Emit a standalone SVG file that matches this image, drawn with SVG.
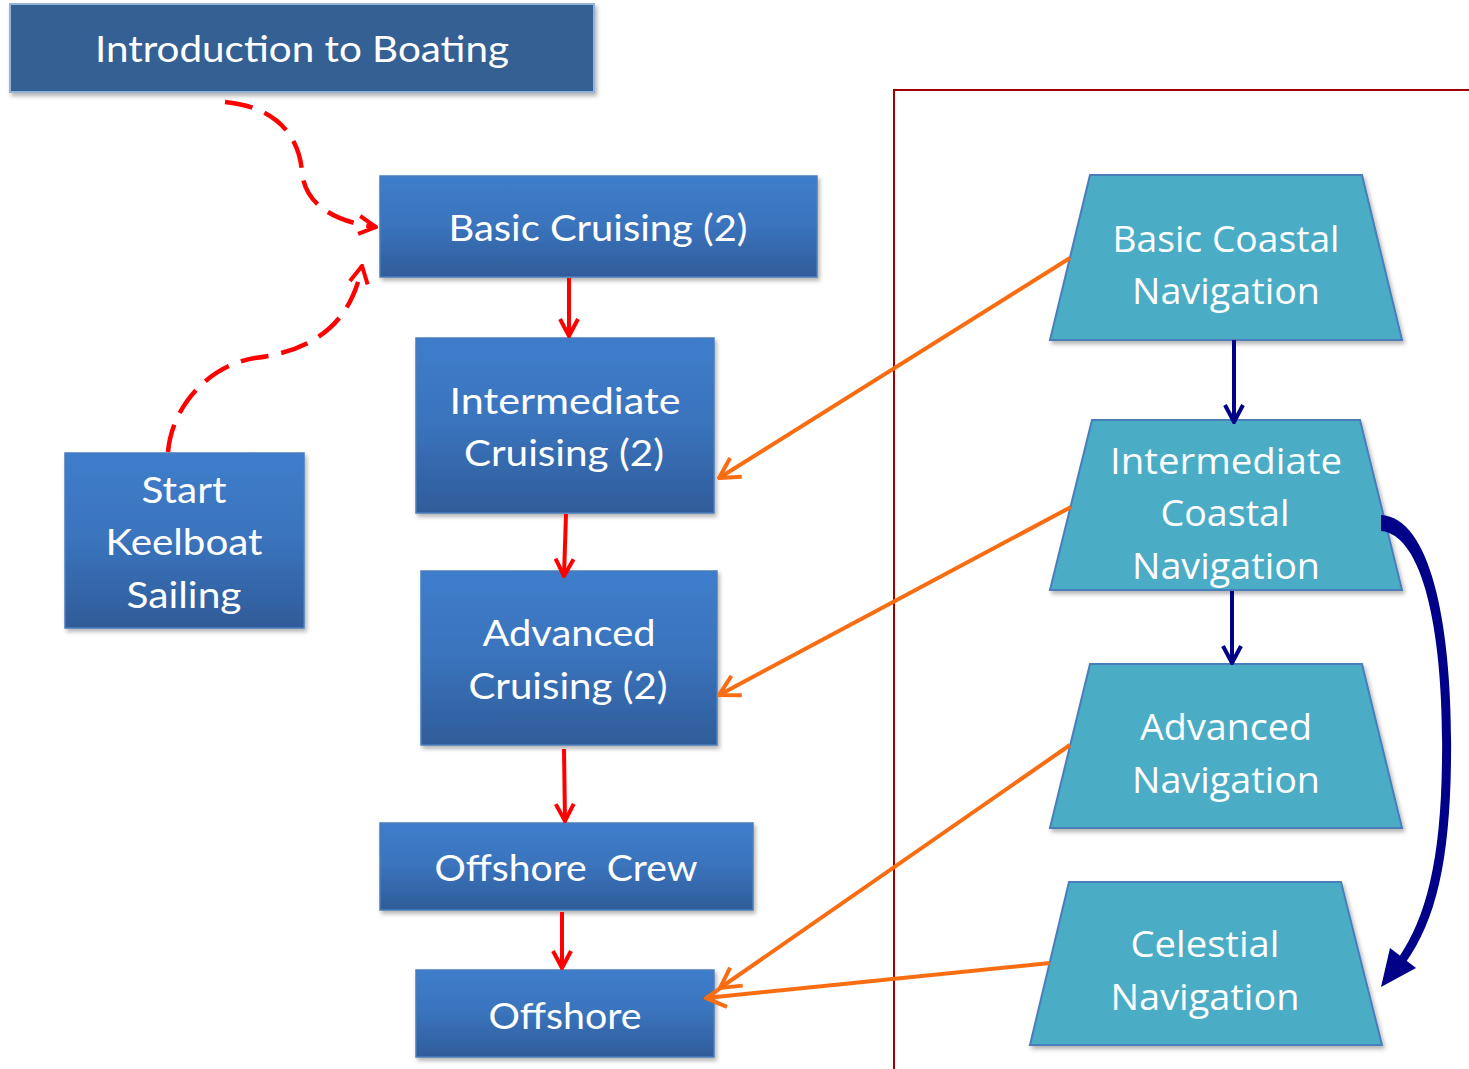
<svg xmlns="http://www.w3.org/2000/svg" width="1469" height="1069" viewBox="0 0 1469 1069">
<style>
.bx{stroke:#4A7EBB;stroke-width:1.5;fill:url(#gb);filter:url(#sh)}
.tz{fill:#4BACC6;stroke:#4A7EBB;stroke-width:2;filter:url(#sh)}
.t{font-family:Lato,"Liberation Sans",sans-serif;font-size:37px;fill:#fff;text-anchor:middle}
.r{font-family:"Open Sans","DejaVu Sans",sans-serif;font-size:36px;fill:#fff;text-anchor:middle}
.red{stroke:#FF0000;stroke-width:4;fill:none}
.dash{stroke:#FF0000;stroke-width:4.5;fill:none;stroke-dasharray:28 13}
.org{stroke:#F96D12;stroke-width:4;fill:none}
.nav{stroke:#000088;stroke-width:4;fill:none}
</style>
<defs>
<linearGradient id="gb" x1="0" y1="0" x2="0" y2="1">
<stop offset="0" stop-color="#3E7DCB"/>
<stop offset="0.5" stop-color="#3A73BC"/>
<stop offset="1" stop-color="#2F5C99"/>
</linearGradient>
<filter id="sh" x="-10%" y="-10%" width="130%" height="130%">
<feDropShadow dx="2" dy="3" stdDeviation="2" flood-color="#000" flood-opacity="0.3"/>
</filter>
<marker id="ar" viewBox="0 0 22 22" refX="20" refY="11" markerWidth="22" markerHeight="22" markerUnits="userSpaceOnUse" orient="auto">
<path d="M3,2 L20,11 L3,20" fill="none" stroke="#FF0000" stroke-width="4"/>
</marker>
<marker id="ao" viewBox="0 0 26 26" refX="24" refY="13" markerWidth="26" markerHeight="26" markerUnits="userSpaceOnUse" orient="auto">
<path d="M4,2 L24,13 L4,24" fill="none" stroke="#F96D12" stroke-width="4"/>
</marker>
<marker id="an" viewBox="0 0 22 22" refX="20" refY="11" markerWidth="22" markerHeight="22" markerUnits="userSpaceOnUse" orient="auto">
<path d="M3,2 L20,11 L3,20" fill="none" stroke="#000088" stroke-width="4"/>
</marker>
</defs>
<rect width="1469" height="1069" fill="#fff"/>
<g id="divider">
<path d="M894,1069 L894,90 L1469,90" fill="none" stroke="#A00000" stroke-width="2"/>
</g>
<g id="intro">
<rect x="10" y="4" width="584" height="88" fill="#366194" stroke="#95B3D7" stroke-width="2" filter="url(#sh)"/>
<text class="t" x="302" y="62" textLength="414" lengthAdjust="spacingAndGlyphs">Introduction to Boating</text>
</g>
<g id="basic-cruising">
<rect class="bx" x="380" y="176" width="437" height="101"/>
<text class="t" x="598" y="241" textLength="299" lengthAdjust="spacingAndGlyphs">Basic Cruising (2)</text>
</g>
<g id="intermediate-cruising">
<rect class="bx" x="416" y="338" width="298" height="175"/>
<text class="t" x="565" y="414" textLength="231" lengthAdjust="spacingAndGlyphs">Intermediate</text>
<text class="t" x="564" y="466" textLength="200" lengthAdjust="spacingAndGlyphs">Cruising (2)</text>
</g>
<g id="advanced-cruising">
<rect class="bx" x="421" y="571" width="296" height="174"/>
<text class="t" x="569" y="646" textLength="173" lengthAdjust="spacingAndGlyphs">Advanced</text>
<text class="t" x="568" y="699" textLength="199" lengthAdjust="spacingAndGlyphs">Cruising (2)</text>
</g>
<g id="offshore-crew">
<rect class="bx" x="380" y="823" width="373" height="87"/>
<text class="t" x="566" y="881" textLength="263" lengthAdjust="spacingAndGlyphs" xml:space="preserve">Offshore  Crew</text>
</g>
<g id="offshore">
<rect class="bx" x="416" y="970" width="298" height="87"/>
<text class="t" x="565" y="1029" textLength="153" lengthAdjust="spacingAndGlyphs">Offshore</text>
</g>
<g id="start-keelboat">
<rect class="bx" x="65" y="453" width="239" height="175"/>
<text class="t" x="184" y="503" textLength="85" lengthAdjust="spacingAndGlyphs">Start</text>
<text class="t" x="184" y="555" textLength="157" lengthAdjust="spacingAndGlyphs">Keelboat</text>
<text class="t" x="184" y="608" textLength="115" lengthAdjust="spacingAndGlyphs">Sailing</text>
</g>
<g id="basic-coastal">
<polygon class="tz" points="1090,175 1362,175 1402,340 1050,340"/>
<text class="r" x="1226" y="252" textLength="227" lengthAdjust="spacingAndGlyphs">Basic Coastal</text>
<text class="r" x="1226" y="304" textLength="188" lengthAdjust="spacingAndGlyphs">Navigation</text>
</g>
<g id="intermediate-coastal">
<polygon class="tz" points="1092,420 1360,420 1402,590 1050,590"/>
<text class="r" x="1226" y="474" textLength="232" lengthAdjust="spacingAndGlyphs">Intermediate</text>
<text class="r" x="1225" y="526" textLength="129" lengthAdjust="spacingAndGlyphs">Coastal</text>
<text class="r" x="1226" y="579" textLength="188" lengthAdjust="spacingAndGlyphs">Navigation</text>
</g>
<g id="advanced-navigation">
<polygon class="tz" points="1090,664 1362,664 1402,828 1050,828"/>
<text class="r" x="1226" y="740" textLength="172" lengthAdjust="spacingAndGlyphs">Advanced</text>
<text class="r" x="1226" y="793" textLength="188" lengthAdjust="spacingAndGlyphs">Navigation</text>
</g>
<g id="celestial-navigation">
<polygon class="tz" points="1069,882 1341,882 1382,1045 1030,1045"/>
<text class="r" x="1205" y="957" textLength="149" lengthAdjust="spacingAndGlyphs">Celestial</text>
<text class="r" x="1205" y="1010" textLength="189" lengthAdjust="spacingAndGlyphs">Navigation</text>
</g>
<g id="connectors">
<path class="red" d="M569,278 L569,336" marker-end="url(#ar)"/>
<path class="red" d="M566,514 L564,576" marker-end="url(#ar)"/>
<path class="red" d="M564,749 L565,821" marker-end="url(#ar)"/>
<path class="red" d="M562,912 L562,968" marker-end="url(#ar)"/>
<path class="dash" d="M225,102 C285,108 300,145 302,172 C305,205 335,222 376,227" marker-end="url(#ar)"/>
<path class="dash" d="M168,452 C172,405 210,365 255,358 C320,350 352,318 362,266" marker-end="url(#ar)"/>
<path class="org" d="M1070,258 L719,478" marker-end="url(#ao)"/>
<path class="org" d="M1071,507 L719,695" marker-end="url(#ao)"/>
<path class="org" stroke-width="4.5" d="M1070,745 L720,988" marker-end="url(#ao)"/>
<path class="org" stroke-width="4.5" d="M1050,963 L706,998" marker-end="url(#ao)"/>
<path class="nav" d="M1234,340 L1234,422" marker-end="url(#an)"/>
<path class="nav" d="M1232,591 L1232,663" marker-end="url(#an)"/>
<path d="M1381,515 C1432,518 1453,630 1451,760 C1450,860 1436,920 1406,962 L1399,957 C1426,918 1441,860 1442,760 C1444,640 1425,535 1381,531 Z" fill="#000088"/>
<path d="M1381,987 L1390,948 L1416,968 Z" fill="#000088"/>
</g>
</svg>
